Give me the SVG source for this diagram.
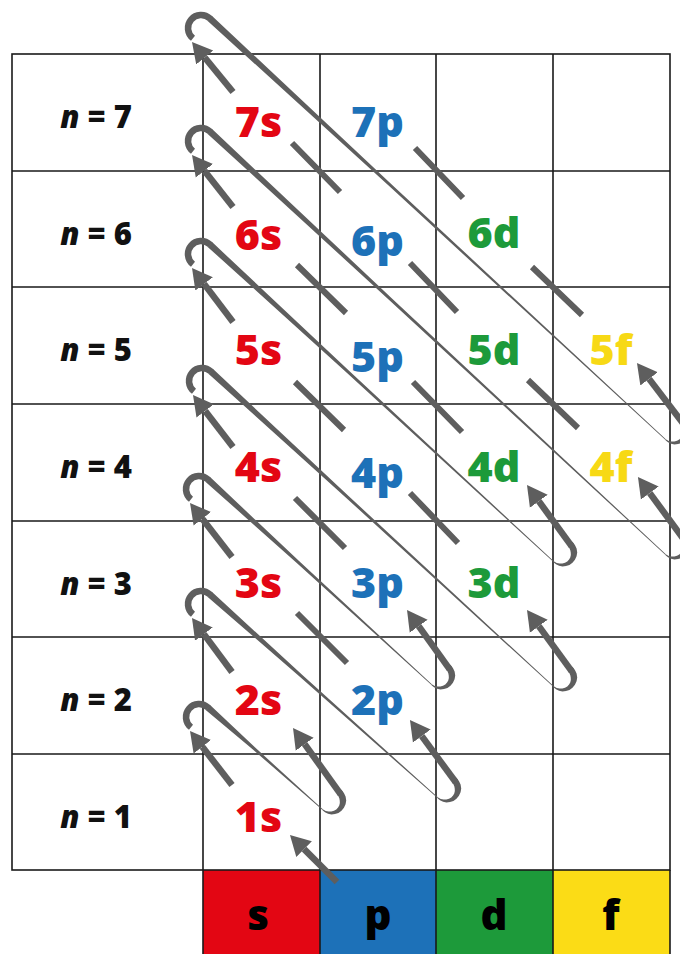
<svg xmlns="http://www.w3.org/2000/svg" width="680" height="954" viewBox="0 0 680 954">
<style>
.grid{stroke:#1a1a1a;stroke-width:1.6;fill:none}
.orb{font-family:"Open Sans","Liberation Sans",sans-serif;font-weight:800;font-size:43px;text-anchor:middle}
.nl{font-family:"Open Sans","Liberation Sans",sans-serif;font-weight:800;font-size:31px;text-anchor:middle;fill:#111}
.hl{font-family:"Open Sans","Liberation Sans",sans-serif;font-weight:800;font-size:42px;text-anchor:middle;fill:#000}
.s{fill:#e30613}.p{fill:#1d71b8}.d{fill:#1d9a3a}.f{fill:#f7d915}
.sh{stroke:#5e5e5e;stroke-width:6.5;fill:none;stroke-linecap:butt;marker-end:url(#ah)}
.dash{stroke:#5e5e5e;stroke-width:6;stroke-linecap:butt}
.tp{fill:#5e5e5e}
</style>
<defs>
<marker id="ah" markerUnits="userSpaceOnUse" viewBox="0 -12 21 24" markerWidth="21" markerHeight="24" refX="0" refY="0" orient="auto"><path d="M0,-11 L20,0 L0,11 Z" fill="#5e5e5e"/></marker>
<path id="loop" d="M1.13,12.95 A13,13 0 0 1 -12.99,0.57 A13,13 0 0 1 0,-13 L0.5,-13" fill="none" stroke="#5e5e5e" stroke-width="6.5"/>
<path id="uturn" fill="#5e5e5e" d="M0,12.5 L3.32,12.37 L6.56,11.35 L9.49,9.49 L11.88,6.86 L13.55,3.63 L14.33,0 L14.14,-3.79 L12.94,-7.47 L10.78,-10.78 L7.63,-13.21 L3.95,-14.73 L0,-15.25 L0,-8.75 L2.27,-8.45 L4.38,-7.58 L6.19,-6.19 L7.85,-4.53 L9.04,-2.42 L9.67,0 L9.63,2.58 L8.90,5.14 L7.48,7.48 L5.45,9.43 L2.90,10.81 L0,11.5 Z"/>
</defs>
<rect width="680" height="954" fill="#fff"/>
<g id="header">
<g id="hdr-s"><rect x="203" y="870" width="117" height="84" fill="#e30613"/><text class="hl" x="258" y="930">s</text></g>
<g id="hdr-p"><rect x="320" y="870" width="116" height="84" fill="#1d71b8"/><text class="hl" x="378" y="930">p</text></g>
<g id="hdr-d"><rect x="436" y="870" width="117" height="84" fill="#1d9a3a"/><text class="hl" x="494" y="930">d</text></g>
<g id="hdr-f"><rect x="553" y="870" width="117" height="84" fill="#fbdc16"/><text class="hl" x="611" y="930">f</text></g>
</g>
<g id="grid" class="grid">
<rect x="12" y="54" width="658" height="816"/>
<path d="M203,54V954M320,54V954M436,54V954M553,54V954M670,870V954M12,171H670M12,287H670M12,404H670M12,521H670M12,637H670M12,754H670"/>
</g>
<g id="rows">
<g id="n7"><text class="nl" x="96" y="128"><tspan font-style="italic">n</tspan> = 7</text></g>
<g id="n6"><text class="nl" x="96" y="245"><tspan font-style="italic">n</tspan> = 6</text></g>
<g id="n5"><text class="nl" x="96" y="361"><tspan font-style="italic">n</tspan> = 5</text></g>
<g id="n4"><text class="nl" x="96" y="478"><tspan font-style="italic">n</tspan> = 4</text></g>
<g id="n3"><text class="nl" x="96" y="595"><tspan font-style="italic">n</tspan> = 3</text></g>
<g id="n2"><text class="nl" x="96" y="711"><tspan font-style="italic">n</tspan> = 2</text></g>
<g id="n1"><text class="nl" x="96" y="828"><tspan font-style="italic">n</tspan> = 1</text></g>
</g>
<g id="orbitals">
<g id="o7s"><text class="orb s" x="258.5" y="137">7s</text></g>
<g id="o6s"><text class="orb s" x="258.5" y="250">6s</text></g>
<g id="o5s"><text class="orb s" x="258.5" y="365">5s</text></g>
<g id="o4s"><text class="orb s" x="258.5" y="482">4s</text></g>
<g id="o3s"><text class="orb s" x="258.5" y="598">3s</text></g>
<g id="o2s"><text class="orb s" x="258.5" y="715">2s</text></g>
<g id="o1s"><text class="orb s" x="258.5" y="832">1s</text></g>
<g id="o7p"><text class="orb p" x="377.5" y="137">7p</text></g>
<g id="o6p"><text class="orb p" x="377.5" y="256">6p</text></g>
<g id="o5p"><text class="orb p" x="377.5" y="372">5p</text></g>
<g id="o4p"><text class="orb p" x="377.5" y="488">4p</text></g>
<g id="o3p"><text class="orb p" x="377.5" y="598">3p</text></g>
<g id="o2p"><text class="orb p" x="377.5" y="715">2p</text></g>
<g id="o6d"><text class="orb d" x="494" y="248">6d</text></g>
<g id="o5d"><text class="orb d" x="494" y="365">5d</text></g>
<g id="o4d"><text class="orb d" x="494" y="482">4d</text></g>
<g id="o3d"><text class="orb d" x="494" y="598">3d</text></g>
<g id="o5f"><text class="orb f" x="611" y="365">5f</text></g>
<g id="o4f"><text class="orb f" x="611" y="482">4f</text></g>
</g>
<g id="connectors">
<g id="dashes" class="dash">
<path d="M292,143L340,192M415,148L463,198M297,265L346,313M410,263L457,312M532,267L582,315M295,382L344,430M413,382L462,432M528,380L578,428M295,498L345,548M410,493L458,543M297,613L347,663"/>
</g>
<g id="loops">
<use href="#loop" transform="translate(201,28) rotate(43)"/>
<use href="#loop" transform="translate(201,141) rotate(43)"/>
<use href="#loop" transform="translate(201,254) rotate(43)"/>
<use href="#loop" transform="translate(202,381) rotate(43)"/>
<use href="#loop" transform="translate(199,489) rotate(43)"/>
<use href="#loop" transform="translate(201,604) rotate(43)"/>
<use href="#loop" transform="translate(199,717) rotate(43)"/>
</g>
<g id="returns" class="tp">
<polygon points="207.7,20.9 391.3,188.1 665.5,440.1 666.1,439.5 393.3,185.9 212.1,16.1"/>
<polygon points="207.7,133.9 391.3,301.9 665.5,555.1 666.1,554.5 393.3,299.7 212.1,129.1"/>
<polygon points="207.7,246.9 346.5,372.5 553.5,562.1 554.1,561.5 348.5,370.3 212.1,242.1"/>
<polygon points="208.7,373.9 347.1,498.7 553.5,687.1 554.1,686.5 349.1,496.5 213.1,369.1"/>
<polygon points="205.7,481.9 296.5,562.7 431.5,685.1 432.1,684.5 298.5,560.5 210.1,477.1"/>
<polygon points="207.7,596.9 300.1,676.9 437.5,798.1 438.1,797.5 302.1,674.7 212.1,592.1"/>
<polygon points="205.7,709.9 252.9,749.5 322.5,810.1 323.1,809.5 254.9,747.3 210.1,705.1"/>
</g>
<g id="uturns">
<use href="#uturn" transform="translate(331,801) rotate(43)"/>
<use href="#uturn" transform="translate(446,789) rotate(43)"/>
<use href="#uturn" transform="translate(440,676) rotate(43)"/>
<use href="#uturn" transform="translate(562,678) rotate(43)"/>
<use href="#uturn" transform="translate(562,553) rotate(43)"/>
<use href="#uturn" transform="translate(674,546) rotate(43)"/>
<use href="#uturn" transform="translate(674,431) rotate(43)"/>
</g>
<g id="arrows" class="sh">
<path d="M233,92L204.7,57.5"/>
<path d="M233,207L204.4,170.7"/>
<path d="M233,322L204.1,283.9"/>
<path d="M233,447L205.2,410.9"/>
<path d="M232,557L202.3,518.8"/>
<path d="M232,672L203.9,634.1"/>
<path d="M232,785L202.3,746.8"/>
<path d="M337,882L304.1,849.1"/>
<path d="M340.4,793.8L304.7,744.2"/>
<path d="M455.4,781.8L421.8,736.1"/>
<path d="M449.4,668.8L418.7,626.2"/>
<path d="M571.4,670.8L538.8,626.2"/>
<path d="M571.4,545.8L538.8,501.2"/>
<path d="M683.4,538.8L649.8,493.1"/>
<path d="M683.4,423.8L649.1,378.9"/>
</g>
</g>
</svg>
